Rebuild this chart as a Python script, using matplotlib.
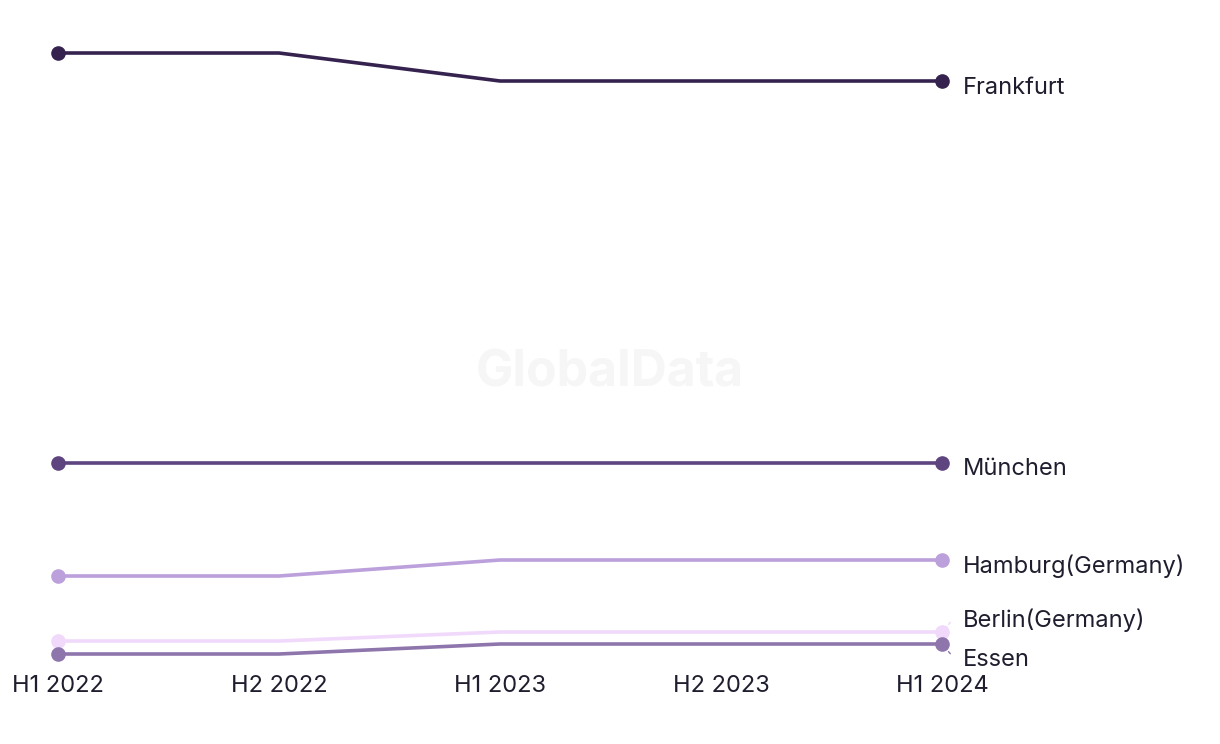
import matplotlib
matplotlib.use("Agg")
import matplotlib.pyplot as plt

# half-year periods and the value of each city
periods = ["H1 2022", "H2 2022", "H1 2023", "H2 2023", "H1 2024"]
cities = ["Frankfurt", "München", "Hamburg(Germany)", "Berlin(Germany)", "Essen"]
frankfurt = [647, 647, 619, 619, 619]
muenchen = [237, 237, 237, 237, 237]
hamburg = [124, 124, 140, 140, 140]
berlin = [59, 59, 68, 68, 68]
essen = [46, 46, 56, 56, 56]

colors = ["#35224f", "#5e4580", "#bca0dc", "#f1d9fb", "#8e76ad"]
label_shift = [-7, -6, -6, 12, -16]  # pixel nudges for the end labels (+ = up)
TEXT = "#1e1e2e"
FONT = ["Inter", "DejaVu Sans"]

W, H = 1220, 744
fig = plt.figure(figsize=(W / 100, H / 100), dpi=100)
x0, x1, ytop, ybot = 58, 942, 53, 654
ax = fig.add_axes([x0 / W, 1 - ybot / H, (x1 - x0) / W, (ybot - ytop) / H])
ax.set_xlim(0, len(periods) - 1)
ax.set_ylim(46, 647)
for s in ax.spines.values():
    s.set_visible(False)
ax.set_yticks([])
ax.set_xticks(range(len(periods)))
ax.set_xticklabels(periods, fontsize=17, color=TEXT, family=FONT)
ax.tick_params(axis="x", length=0, pad=15)

fig.text(0.5, 1 - 373 / H, "GlobalData", ha="center", va="center",
         fontsize=36, fontweight="bold", color="#f6f6f6",
         family=FONT, zorder=0)

series = [frankfurt, muenchen, hamburg, berlin, essen]
xs = list(range(len(periods)))
for name, vals, c, dy in zip(cities, series, colors, label_shift):
    ax.plot(xs, vals, color=c, lw=2.6, solid_capstyle="round", clip_on=False, zorder=3)
    ax.plot([xs[0], xs[-1]], [vals[0], vals[-1]], "o", color=c, ms=9.5,
            clip_on=False, zorder=4)
    ax.annotate(name, xy=(xs[-1], vals[-1]), xytext=(15, dy * 0.72),
                textcoords="offset points", ha="left", va="center",
                fontsize=17, color=TEXT, family=FONT,
                annotation_clip=False)
    if abs(dy) > 10:
        sign = 1 if dy > 0 else -1
        ax.annotate("", xy=(xs[-1], vals[-1]), xytext=(6, sign * 7),
                    textcoords="offset points",
                    arrowprops=dict(arrowstyle="-", color=c, lw=1,
                                    ls=(0, (2, 2)), shrinkA=0, shrinkB=5),
                    annotation_clip=False)

fig.savefig("out.png", dpi=100)
